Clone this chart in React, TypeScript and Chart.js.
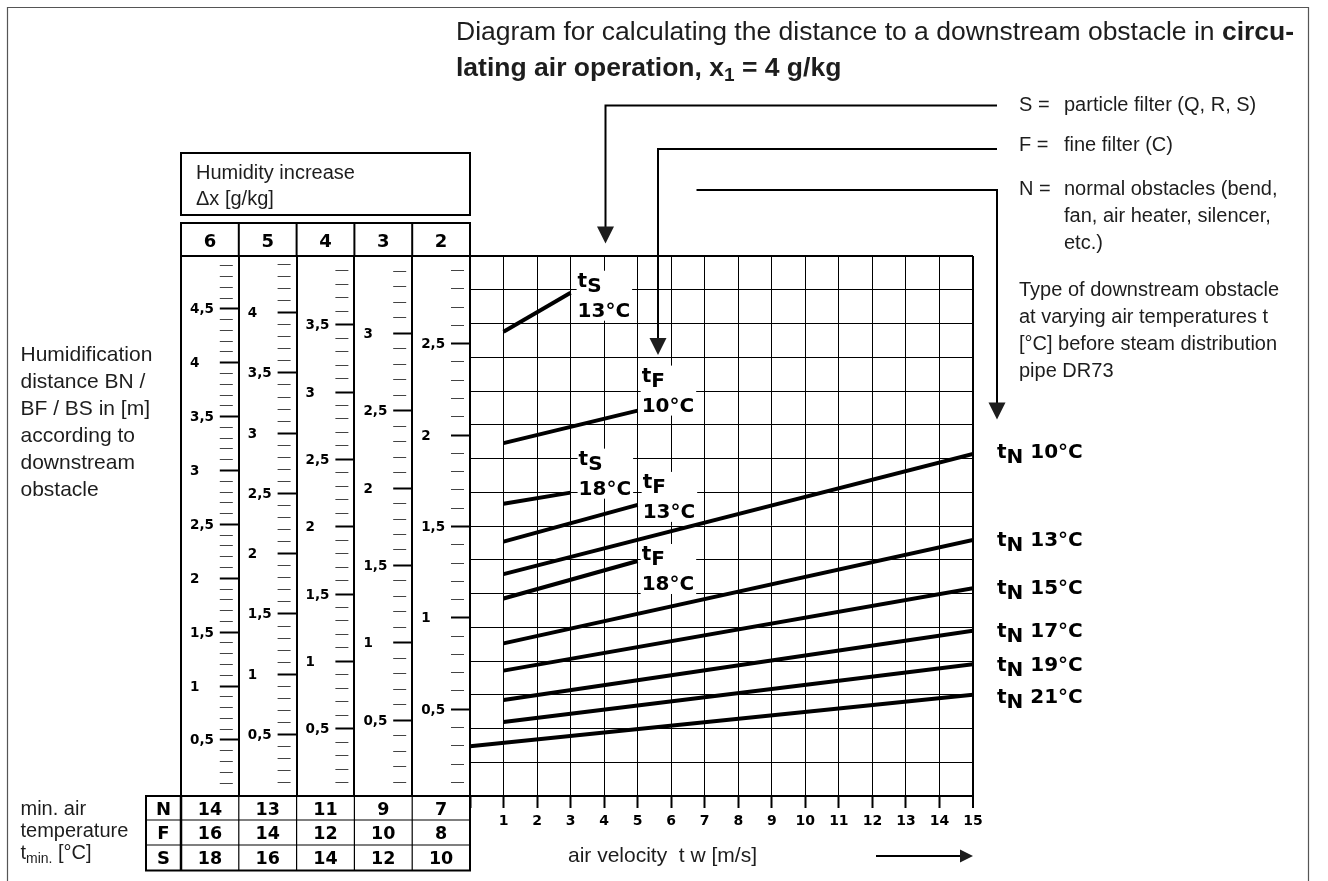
import React, { useEffect, useRef } from 'react';
import { Chart, registerables } from 'chart.js';

Chart.register(...registerables);

const CANVAS_W = 1328;
const CANVAS_H = 881;

// Humidity increase Δx [g/kg], one ruler column each (left to right)
const HUMIDITY_STEPS = [6, 5, 4, 3, 2];
// Humidification distance [m] spanned by each ruler from grid bottom to grid top
const RULER_MIN = [-0.02, -0.01, 0, 0.01, 0.025];
const RULER_MAX = [4.99, 4.47, 4.01, 3.5, 2.98];

// Minimum air temperature [°C] per obstacle type and Δx column
const OBSTACLE_ROWS = ['N', 'F', 'S'];
const MIN_TEMP_N = [14, 13, 11, 9, 7];
const MIN_TEMP_F = [16, 14, 12, 10, 8];
const MIN_TEMP_S = [18, 16, 14, 12, 10];

// Air velocity axis [m/s] and background grid rows
const VELOCITY_MAX = 15;
const GRID_ROWS = 16;

// Curves: obstacle type, air temperature, velocity range [m/s] and
// humidification distance [m] read on the Δx = 2 g/kg ruler
const CURVE_TYPE = ['S', 'F', 'S', 'F', 'F', 'N', 'N', 'N', 'N', 'N', 'N'];
const CURVE_TEMP = [13, 10, 18, 13, 18, 10, 13, 15, 17, 19, 21];
const CURVE_V_START = [1, 1, 1, 1, 1, 1, 1, 1, 1, 1, 0];
const CURVE_V_END = [3, 5, 3, 5, 5, 15, 15, 15, 15, 15, 15];
const CURVE_B_START = [2.566, 1.956, 1.624, 1.417, 1.106, 1.239, 0.86, 0.711, 0.55, 0.43, 0.297];
const CURVE_B_END = [2.779, 2.134, 1.685, 1.618, 1.311, 1.897, 1.426, 1.162, 0.929, 0.746, 0.579];

// Curve label placement relative to the curve end point [px]
const LABEL_DX = [7, 4, 8, 5, 4, 24, 24, 24, 24, 24, 24];
const LABEL_DY = [-6, -29, -28, -17, -1, 4, 6, 6, 6, 7, 8];

const COL_W = 57.8;
const COLUMN_IDS = HUMIDITY_STEPS.map((d) => 'dx' + d);

const SANS = '"Liberation Sans", Arial, sans-serif';
const HEAVY = '"DejaVu Sans", sans-serif';
const INK = '#1d1d1d';

const isHalf = (v: number) => Math.abs(v * 2 - Math.round(v * 2)) < 1e-6;
const fmtComma = (v: number) => (Number.isInteger(v) ? String(v) : String(v).replace('.', ','));

function put(ctx: CanvasRenderingContext2D, s: string, x: number, y: number, font: string, align: CanvasTextAlign = 'left', color = INK) {
  ctx.font = font;
  ctx.textAlign = align;
  ctx.textBaseline = 'alphabetic';
  ctx.fillStyle = color;
  ctx.fillText(s, x, y);
}

// Writes consecutive pieces (text, font, vertical shift) and returns the end x
function runs(ctx: CanvasRenderingContext2D, x: number, y: number, parts: [string, string, number][], color = INK) {
  ctx.textAlign = 'left';
  ctx.textBaseline = 'alphabetic';
  ctx.fillStyle = color;
  for (const [s, f, dy] of parts) {
    ctx.font = f;
    ctx.fillText(s, x, y + dy);
    x += ctx.measureText(s).width;
  }
  return x;
}

function arrowDown(ctx: CanvasRenderingContext2D, x: number, tip: number) {
  ctx.beginPath();
  ctx.moveTo(x - 8.5, tip - 17);
  ctx.lineTo(x + 8.5, tip - 17);
  ctx.lineTo(x, tip);
  ctx.closePath();
  ctx.fill();
}

function polyline(ctx: CanvasRenderingContext2D, pts: number[][], width: number) {
  ctx.lineWidth = width;
  ctx.beginPath();
  pts.forEach(([x, y], i) => (i ? ctx.lineTo(x, y) : ctx.moveTo(x, y)));
  ctx.stroke();
}

const diagramDecor = {
  id: 'diagramDecor',
  afterDraw(chart: any) {
    const ctx: CanvasRenderingContext2D = chart.ctx;
    const area = chart.chartArea;
    const xs = chart.scales.x;
    const ys = chart.scales.dx2;
    const cols = COLUMN_IDS.map((id) => chart.scales[id]);
    const colLeft = cols[0].left;
    const colRight = area.left;

    ctx.save();
    ctx.strokeStyle = '#000';
    ctx.fillStyle = '#000';
    ctx.lineCap = 'butt';

    // outer frame
    ctx.strokeStyle = '#555';
    polyline(ctx, [[7.5, CANVAS_H], [7.5, 7.5], [1308.5, 7.5], [1308.5, CANVAS_H]], 1.2);
    ctx.strokeStyle = '#000';

    // title
    const tReg = `26.5px ${SANS}`;
    const tBold = `bold 26.5px ${SANS}`;
    runs(ctx, 456, 39.5, [
      ['Diagram for calculating the distance to a downstream obstacle in ', tReg, 0],
      ['circu-', tBold, 0],
    ]);
    runs(ctx, 456, 75.5, [
      ['lating air operation, x', tBold, 0],
      ['1', `bold 19px ${SANS}`, 5],
      [' = 4 g/kg', tBold, 0],
    ]);

    // obstacle type legend
    const lf = `20px ${SANS}`;
    put(ctx, 'S =', 1019, 110.5, lf);
    put(ctx, 'particle filter (Q, R, S)', 1064, 110.5, lf);
    put(ctx, 'F =', 1019, 150.5, lf);
    put(ctx, 'fine filter (C)', 1064, 150.5, lf);
    put(ctx, 'N =', 1019, 194.5, lf);
    put(ctx, 'normal obstacles (bend,', 1064, 194.5, lf);
    put(ctx, 'fan, air heater, silencer,', 1064, 221.5, lf);
    put(ctx, 'etc.)', 1064, 248.5, lf);
    ['Type of downstream obstacle', 'at varying air temperatures t', '[°C] before steam distribution', 'pipe DR73'].forEach(
      (s, i) => put(ctx, s, 1019, 295.5 + i * 27, lf)
    );

    // leader arrows from the legend
    polyline(ctx, [[997, 105.5], [605.5, 105.5], [605.5, 228]], 2);
    arrowDown(ctx, 605.5, 243.5);
    polyline(ctx, [[997, 149], [658, 149], [658, 340]], 2);
    arrowDown(ctx, 658, 355);
    polyline(ctx, [[696.5, 190], [997, 190], [997, 404]], 2);
    arrowDown(ctx, 997, 419.5);

    // left-hand descriptions
    const sf = `21px ${SANS}`;
    ['Humidification', 'distance BN /', 'BF / BS in [m]', 'according to', 'downstream', 'obstacle'].forEach((s, i) =>
      put(ctx, s, 20.5, 361 + i * 27, sf)
    );
    const bf = `20px ${SANS}`;
    put(ctx, 'min. air', 20.5, 815, bf);
    put(ctx, 'temperature', 20.5, 837, bf);
    runs(ctx, 20.5, 859, [
      ['t', bf, 0],
      ['min.', `14px ${SANS}`, 4],
      [' [°C]', bf, 0],
    ]);

    // Δx caption box
    ctx.lineWidth = 2;
    ctx.strokeRect(colLeft, 153, colRight - colLeft, 62);
    put(ctx, 'Humidity increase', 196, 179, bf);
    put(ctx, 'Δx [g/kg]', 196, 205, bf);

    // Δx header row
    const headTop = 223;
    ctx.strokeRect(colLeft, headTop, colRight - colLeft, area.top - headTop);
    cols.forEach((s: any, i: number) => {
      if (i < cols.length - 1) polyline(ctx, [[s.right, headTop], [s.right, area.top]], 2);
      put(ctx, String(HUMIDITY_STEPS[i]), (s.left + s.right) / 2, 246.5, `bold 18px ${HEAVY}`, 'center', '#000');
    });
    polyline(ctx, [[colLeft, headTop], [colLeft, area.bottom]], 2);

    // ruler labels
    cols.forEach((s: any, i: number) => {
      for (const t of s.ticks) {
        const v = t.value;
        if (!isHalf(v) || v < 0.25 || v > RULER_MAX[i] - 0.2) continue;
        ctx.font = `bold 13.5px ${HEAVY}`;
        ctx.textAlign = 'left';
        ctx.textBaseline = 'middle';
        ctx.fillStyle = '#000';
        ctx.fillText(fmtComma(v), s.left + 9, s.getPixelForValue(v) + 1);
      }
    });

    // minimum temperature table
    const rowY = [area.bottom, 820, 845, 870.5];
    const tableLeft = 146;
    ctx.lineWidth = 2;
    ctx.strokeRect(tableLeft, rowY[0], colRight - tableLeft, rowY[3] - rowY[0]);
    polyline(ctx, [[colLeft, rowY[0]], [colLeft, rowY[3]]], 2.5);
    for (let r = 1; r < 3; r++) polyline(ctx, [[tableLeft, rowY[r]], [colRight, rowY[r]]], 1.2);
    cols.forEach((s: any, i: number) => {
      if (i < cols.length - 1) polyline(ctx, [[s.right, rowY[0]], [s.right, rowY[3]]], 1.2);
    });
    const tableVals = [MIN_TEMP_N, MIN_TEMP_F, MIN_TEMP_S];
    OBSTACLE_ROWS.forEach((lab, r) => {
      const base = (rowY[r] + rowY[r + 1]) / 2 + 6.5;
      put(ctx, lab, (tableLeft + colLeft) / 2, base, `bold 18px ${HEAVY}`, 'center', '#000');
      cols.forEach((s: any, i: number) => {
        put(ctx, String(tableVals[r][i]), (s.left + s.right) / 2, base, `bold 17.5px ${HEAVY}`, 'center', '#000');
      });
    });

    // velocity axis caption
    put(ctx, 'air velocity  t w [m/s]', 568, 862, `21px ${SANS}`);
    polyline(ctx, [[876, 856], [962, 856]], 2);
    ctx.beginPath();
    ctx.moveTo(area.right, 856);
    ctx.lineTo(area.right - 13, 849.5);
    ctx.lineTo(area.right - 13, 862.5);
    ctx.closePath();
    ctx.fill();

    // curve labels
    const big = `bold 20px ${HEAVY}`;
    CURVE_TYPE.forEach((type, i) => {
      const ex = xs.getPixelForValue(CURVE_V_END[i]);
      const ey = ys.getPixelForValue(CURVE_B_END[i]);
      const x = ex + LABEL_DX[i];
      const y = ey + LABEL_DY[i];
      const temp = `${CURVE_TEMP[i]}°C`;
      if (type === 'N') {
        runs(ctx, x, y, [
          ['t', big, 0],
          [type, big, 5],
          [' ' + temp, big, 0],
        ], '#000');
      } else {
        ctx.font = big;
        const w = Math.max(ctx.measureText(temp).width, 26);
        ctx.fillStyle = '#fff';
        ctx.fillRect(x - 1, y - 16, w + 3, 30 + 20);
        runs(ctx, x, y, [
          ['t', big, 0],
          [type, big, 5],
        ], '#000');
        put(ctx, temp, x, y + 30, big, 'left', '#000');
      }
    });

    ctx.restore();
  },
};

function buildColumnScale(i: number) {
  return {
    type: 'linear',
    axis: 'y',
    position: 'left',
    weight: HUMIDITY_STEPS.length - i,
    min: RULER_MIN[i],
    max: RULER_MAX[i],
    afterFit: (s: any) => {
      s.width = COL_W;
    },
    ticks: { display: false, stepSize: 0.1, autoSkip: false, maxTicksLimit: 200, includeBounds: false },
    grid: {
      drawOnChartArea: false,
      drawTicks: true,
      tickLength: 19,
      tickColor: (c: any) => {
        const v = c.tick ? c.tick.value : -1;
        if (v < 0.05 || v > RULER_MAX[i] - 0.05) return 'rgba(0,0,0,0)';
        return isHalf(v) ? '#000' : '#444';
      },
      tickWidth: (c: any) => (c.tick && isHalf(c.tick.value) ? 2 : 1),
      tickBorderDash: (c: any) => (c.tick && isHalf(c.tick.value) ? [] : [13, 40]),
    },
    border: { display: true, color: '#000', width: 2 },
  };
}

export default function App() {
  const ref = useRef<HTMLCanvasElement>(null);

  useEffect(() => {
    const canvas = ref.current;
    if (!canvas) return;

    const datasets = CURVE_TYPE.map((type, i) => ({
      label: `t${type} ${CURVE_TEMP[i]}°C`,
      data: [
        { x: CURVE_V_START[i], y: CURVE_B_START[i] },
        { x: CURVE_V_END[i], y: CURVE_B_END[i] },
      ],
      xAxisID: 'x',
      yAxisID: 'dx2',
      showLine: true,
      borderColor: '#000',
      backgroundColor: '#000',
      borderWidth: 4,
      borderCapStyle: 'butt',
      pointRadius: 0,
      pointHoverRadius: 0,
      fill: false,
    }));

    const scales: any = {
      x: {
        type: 'linear',
        axis: 'x',
        position: 'bottom',
        min: 0,
        max: VELOCITY_MAX,
        afterFit: (s: any) => {
          s.height = 40;
        },
        ticks: {
          stepSize: 1,
          autoSkip: false,
          maxRotation: 0,
          padding: 5,
          color: '#000',
          font: { family: 'DejaVu Sans', weight: 'bold', size: 14 },
          callback: (v: any) => (v === 0 ? '' : String(v)),
        },
        grid: {
          color: '#000',
          lineWidth: (c: any) => (c.tick && c.tick.value === VELOCITY_MAX ? 2 : 1),
          tickLength: 12,
          tickWidth: 2,
          tickColor: '#000',
        },
        border: { display: true, color: '#000', width: 2 },
      },
      rows: {
        type: 'linear',
        axis: 'y',
        position: 'left',
        weight: 0,
        min: 0,
        max: GRID_ROWS,
        afterFit: (s: any) => {
          s.width = 0;
        },
        ticks: { display: false, stepSize: 1 },
        grid: {
          color: '#000',
          lineWidth: (c: any) => (c.tick && c.tick.value === GRID_ROWS ? 2 : 1),
          drawTicks: false,
        },
        border: { display: false },
      },
    };
    HUMIDITY_STEPS.forEach((_, i) => {
      scales[COLUMN_IDS[i]] = buildColumnScale(i);
    });

    const chart = new Chart(canvas, {
      type: 'scatter',
      data: { datasets } as any,
      options: {
        responsive: false,
        animation: false,
        devicePixelRatio: 1,
        events: [],
        layout: { padding: { left: 181, top: 256, right: CANVAS_W - 973, bottom: 45 } },
        plugins: { legend: { display: false }, tooltip: { enabled: false } },
        scales,
      } as any,
      plugins: [diagramDecor],
    });

    return () => chart.destroy();
  }, []);

  return (
    <div style={{ position: 'fixed', left: 0, top: 0, width: CANVAS_W, height: CANVAS_H, background: '#fff' }}>
      <canvas ref={ref} width={CANVAS_W} height={CANVAS_H} style={{ display: 'block', width: CANVAS_W, height: CANVAS_H }} />
    </div>
  );
}
